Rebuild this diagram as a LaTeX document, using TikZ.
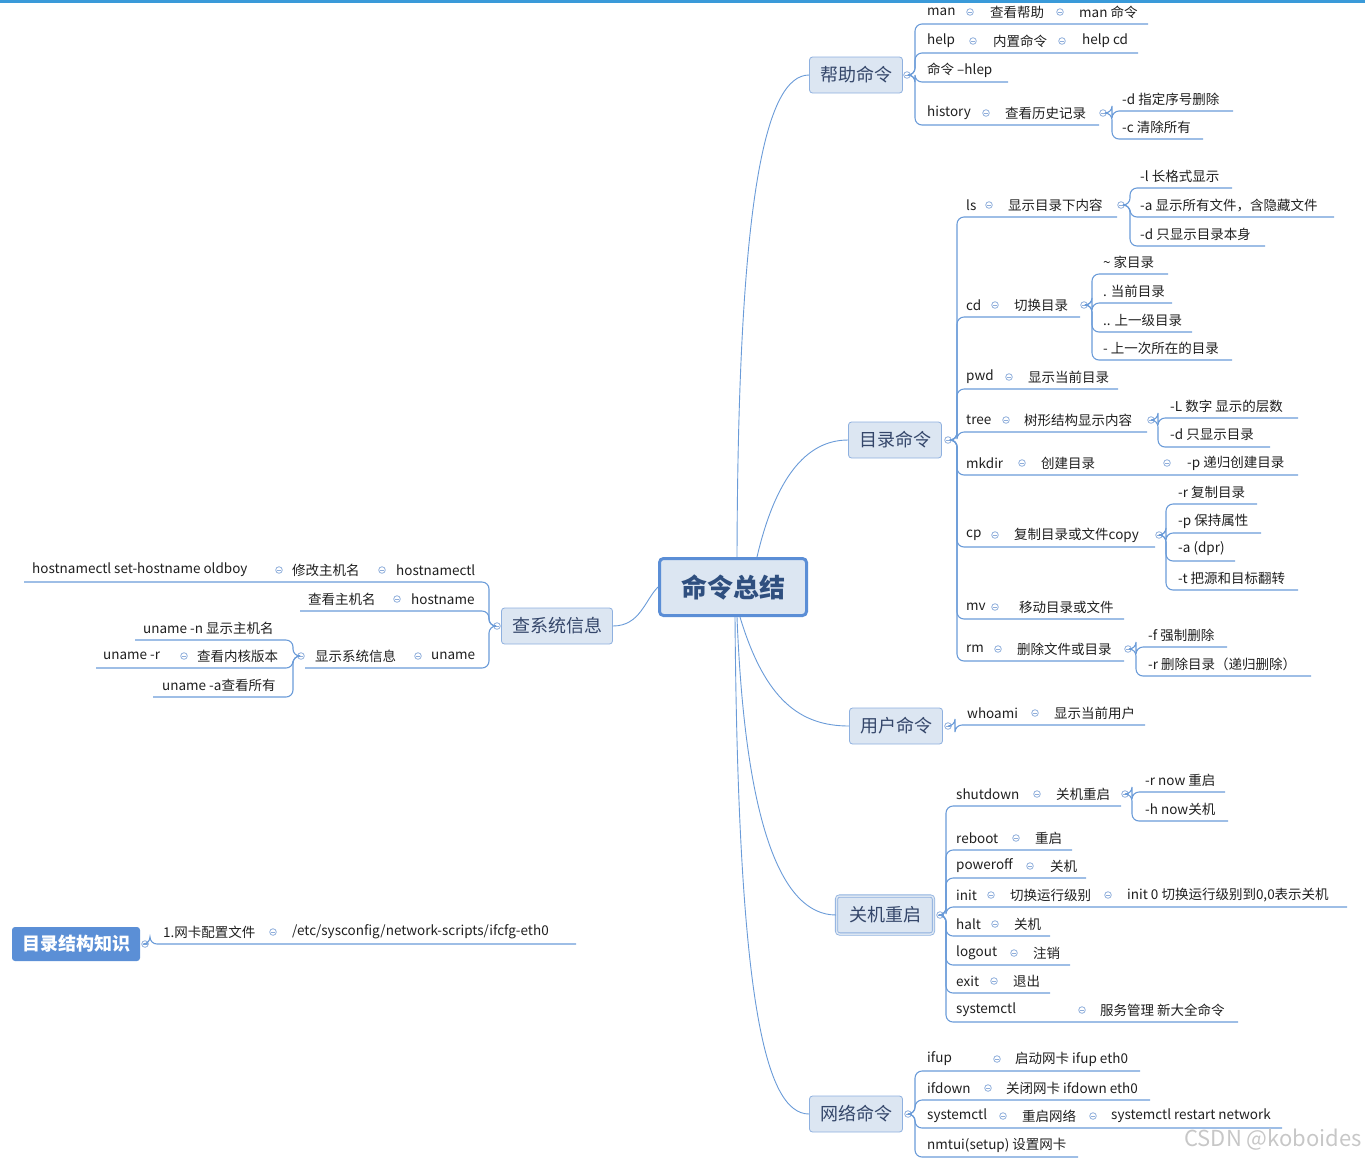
\documentclass[tikz,border=0pt]{standalone}
\usepackage{fontspec}
\setmainfont{Noto Sans CJK SC}
\definecolor{ln}{HTML}{6A9BD8}
\definecolor{mk}{HTML}{8FAEDB}
\definecolor{bfill}{HTML}{DCE6F2}
\definecolor{bdraw}{HTML}{8EB0DF}
\definecolor{btext}{HTML}{34466A}
\definecolor{topc}{HTML}{3A9AD9}
\definecolor{rootd}{HTML}{5B8ED6}
\definecolor{roott}{HTML}{2F4F7F}
\definecolor{knowf}{HTML}{5B8FD6}
\newcount\tc
\newcommand\tx[3]{\global\advance\tc by 1 \node[leaf] (t\the\tc) at (#1,#2) {#3};}
\newcommand\mk[2]{\draw[mkc] (#1,#2) circle (3.3); \draw[mkc] (#1-1.8,#2) -- (#1+1.8,#2);}
\newcommand\ch[5]{\draw[lnk,rounded corners=7] (#1+3.3,#2) -- (#3,#2) -- (#3,#4) -- (#5,#4);}
\newcommand\chL[5]{\draw[lnk,rounded corners=7] (#1-3.3,#2) -- (#3,#2) -- (#3,#4) -- (#5,#4);}
\tikzset{
 leaf/.style={anchor=west,inner sep=0pt,font=\fontsize{13.5}{15}\selectfont,text=black!88},
 lnk/.style={draw=ln,line width=1.1pt},
 mkc/.style={draw=mk,line width=0.8pt},
 br/.style={draw=bdraw,fill=bfill,rounded corners=3,minimum width=93,minimum height=36,inner sep=0pt,font=\fontsize{18}{20}\selectfont,text=btext,line width=0.8pt},
 cur/.style={draw=ln,line width=0.9pt}
}
\begin{document}
\begin{tikzpicture}[x=1pt,y=-1pt]
\useasboundingbox (0,0) rectangle (1365,1163);
\draw[draw=topc,line width=3pt] (0,1.5) -- (1365,1.5);
% central
\node[draw=rootd,line width=3pt,fill=bfill,rounded corners=4,minimum width=147,minimum height=57,font=\fontsize{26}{28}\selectfont\bfseries,text=roott] (root) at (733,587) {命令总结};
\node[br] (help) at (856,75) {帮助命令};
\node[br] (dir) at (895,440) {目录命令};
\node[br] (user) at (896,726) {用户命令};
\node[br,double=bfill,double distance=1.5pt,minimum width=97,minimum height=38] (shut) at (885,915) {关机重启};
\node[br] (net) at (856,1114) {网络命令};
\node[br,minimum width=111] (sys) at (557,626) {查系统信息};
\node[draw=none,fill=knowf,rounded corners=3,minimum width=128,minimum height=34,font=\fontsize{18}{20}\selectfont\bfseries,text=white] (know) at (76,944) {目录结构知识};
% curves
\draw[cur] (root.north) ++(4,0) .. controls (738,200) and (765,75) .. (help.west);
\draw[cur] (root.north) ++(24,0) .. controls (775,480) and (805,440) .. (dir.west);
\draw[cur] (root.south) ++(7,0) .. controls (765,700) and (800,726) .. (user.west);
\draw[cur] (root.south) ++(4,0) .. controls (745,820) and (780,915) .. (shut.west);
\draw[cur] (root.south) ++(2,0) .. controls (738,1000) and (765,1114) .. (net.west);
\draw[cur] (sys.east) .. controls (640,626) and (645,600) .. (root.west);
\mk{907}{75}
% help
\ch{907}{75}{915}{24}{1148}\ch{907}{75}{915}{53}{1138}\ch{907}{75}{915}{82}{1008}\ch{907}{75}{915}{125}{1099}
\tx{927}{12}{man}\mk{970}{12}\tx{990}{12}{查看帮助}\mk{1060}{12}\tx{1079}{12}{man 命令}
\tx{927}{41}{help}\mk{973}{41}\tx{993}{41}{内置命令}\mk{1062}{41}\tx{1082}{41}{help cd}
\tx{927}{70}{命令 --hlep}
\tx{927}{113}{history}\mk{986}{113}\tx{1005}{113}{查看历史记录}\mk{1103}{113}
\ch{1103}{113}{1112}{111}{1233}\ch{1103}{113}{1112}{139}{1203}
\tx{1122}{99}{-d 指定序号删除}\tx{1122}{127}{-c 清除所有}
% dir
\mk{948}{440}
\foreach \ly/\xe in {217/1117,317/1080,389/1118,432/1147,475/1298,547/1155,619/1124,661/1124}{\ch{948}{440}{957}{\ly}{\xe}}
\tx{966}{205}{ls}\mk{989}{205}\tx{1008}{205}{显示目录下内容}\mk{1121}{205}
\ch{1121}{205}{1130}{188}{1232}\ch{1121}{205}{1130}{217}{1334}\ch{1121}{205}{1130}{246}{1265}
\tx{1140}{176}{-l 长格式显示}\tx{1140}{205}{-a 显示所有文件，含隐藏文件}\tx{1140}{234}{-d 只显示目录本身}
\tx{966}{305}{cd}\mk{995}{305}\tx{1014}{305}{切换目录}\mk{1084}{305}
\foreach \ly/\xe in {274/1168,303/1172,332/1192,360/1232}{\ch{1084}{305}{1092}{\ly}{\xe}}
\tx{1103}{262}{\textasciitilde{} 家目录}\tx{1103}{291}{. 当前目录}\tx{1103}{320}{.. 上一级目录}\tx{1103}{348}{- 上一次所在的目录}
\tx{966}{377}{pwd}\mk{1009}{377}\tx{1028}{377}{显示当前目录}
\tx{966}{420}{tree}\mk{1006}{420}\tx{1024}{420}{树形结构显示内容}\mk{1151}{420}
\ch{1151}{420}{1158}{418}{1298}\ch{1151}{420}{1158}{447}{1270}
\tx{1170}{406}{-L 数字 显示的层数}\tx{1170}{435}{-d 只显示目录}
\tx{966}{463}{mkdir}\mk{1022}{463}\tx{1041}{463}{创建目录}\mk{1167}{463}\tx{1187}{463}{-p 递归创建目录}
\tx{966}{535}{cp}\mk{995}{535}\tx{1014}{535}{复制目录或文件copy}\mk{1159}{535}
\foreach \ly/\xe in {504/1257,533/1261,561/1235,590/1298}{\ch{1159}{535}{1166}{\ly}{\xe}}
\tx{1178}{492}{-r 复制目录}\tx{1178}{521}{-p 保持属性}\tx{1178}{549}{-a (dpr)}\tx{1178}{578}{-t 把源和目标翻转}
\tx{966}{607}{mv}\mk{995}{607}\tx{1019}{607}{移动目录或文件}
\tx{966}{649}{rm}\mk{998}{649}\tx{1017}{649}{删除文件或目录}\mk{1128}{649}
\ch{1128}{649}{1136}{647}{1227}\ch{1128}{649}{1136}{676}{1311}
\tx{1148}{635}{-f 强制删除}\tx{1148}{664}{-r 删除目录（递归删除）}
% user
\mk{948}{726}\ch{948}{726}{955}{725}{1145}
\tx{967}{713}{whoami}\mk{1035}{713}\tx{1054}{713}{显示当前用户}
% shutdown
\mk{940}{915}
\foreach \ly/\xe in {806/1121,850/1072,878/1086,907/1347,936/1050,965/1070,993/1050,1022/1238}{\ch{940}{915}{946}{\ly}{\xe}}
\tx{956}{794}{shutdown}\mk{1037}{794}\tx{1056}{794}{关机重启}\mk{1125}{794}
\ch{1125}{794}{1132}{792}{1225}\ch{1125}{794}{1132}{821}{1228}
\tx{1145}{780}{-r now 重启}\tx{1145}{809}{-h now关机}
\tx{956}{838}{reboot}\mk{1016}{838}\tx{1035}{838}{重启}
\tx{956}{866}{poweroff}\mk{1030}{866}\tx{1050}{866}{关机}
\tx{956}{895}{init}\mk{991}{895}\tx{1010}{895}{切换运行级别}\mk{1108}{895}\tx{1127}{895}{init 0 切换运行级别到0,0表示关机}
\tx{956}{924}{halt}\mk{995}{924}\tx{1014}{924}{关机}
\tx{956}{953}{logout}\mk{1014}{953}\tx{1033}{953}{注销}
\tx{956}{981}{exit}\mk{994}{981}\tx{1013}{981}{退出}
\tx{956}{1010}{systemctl}\mk{1082}{1010}\tx{1100}{1010}{服务管理 新大全命令}
% net
\mk{908}{1114}
\foreach \ly/\xe in {1071/1140,1100/1150,1128/1282,1157/1078}{\ch{908}{1114}{915}{\ly}{\xe}}
\tx{927}{1059}{ifup}\mk{997}{1059}\tx{1015}{1059}{启动网卡 ifup eth0}
\tx{927}{1088}{ifdown}\mk{988}{1088}\tx{1006}{1088}{关闭网卡 ifdown eth0}
\tx{927}{1116}{systemctl}\mk{1003}{1116}\tx{1022}{1116}{重启网络}\mk{1093}{1116}\tx{1111}{1116}{systemctl restart network}
\tx{927}{1145}{nmtui(setup) 设置网卡}
% sys (left)
\mk{497}{626}
\chL{497}{626}{489}{582}{24}\chL{497}{626}{489}{611}{300}\chL{497}{626}{489}{668}{305}
\tx{32}{570}{hostnamectl set-hostname oldboy}\mk{279}{570}\tx{292}{570}{修改主机名}\mk{382}{570}\tx{396}{570}{hostnamectl}
\tx{308}{599}{查看主机名}\mk{397}{599}\tx{411}{599}{hostname}
\tx{315}{656}{显示系统信息}\mk{418}{656}\tx{431}{656}{uname}\mk{301}{656}
\chL{301}{656}{293}{640}{135}\chL{301}{656}{293}{668}{96}\chL{301}{656}{293}{697}{153}
\tx{143}{628}{uname -n 显示主机名}\tx{103}{656}{uname -r}\mk{184}{656}\tx{197}{656}{查看内核版本}\tx{162}{685}{uname -a查看所有}
% know
\mk{145}{944}\ch{145}{944}{150}{944}{576}
\tx{163}{932}{1.网卡配置文件}\mk{273}{932}\tx{292}{932}{/etc/sysconfig/network-scripts/ifcfg-eth0}
\node[anchor=east,inner sep=0pt,font=\fontsize{22}{24}\selectfont,text=black!22] (wm) at (1362,1140) {CSDN @koboides};
\end{tikzpicture}
\end{document}
